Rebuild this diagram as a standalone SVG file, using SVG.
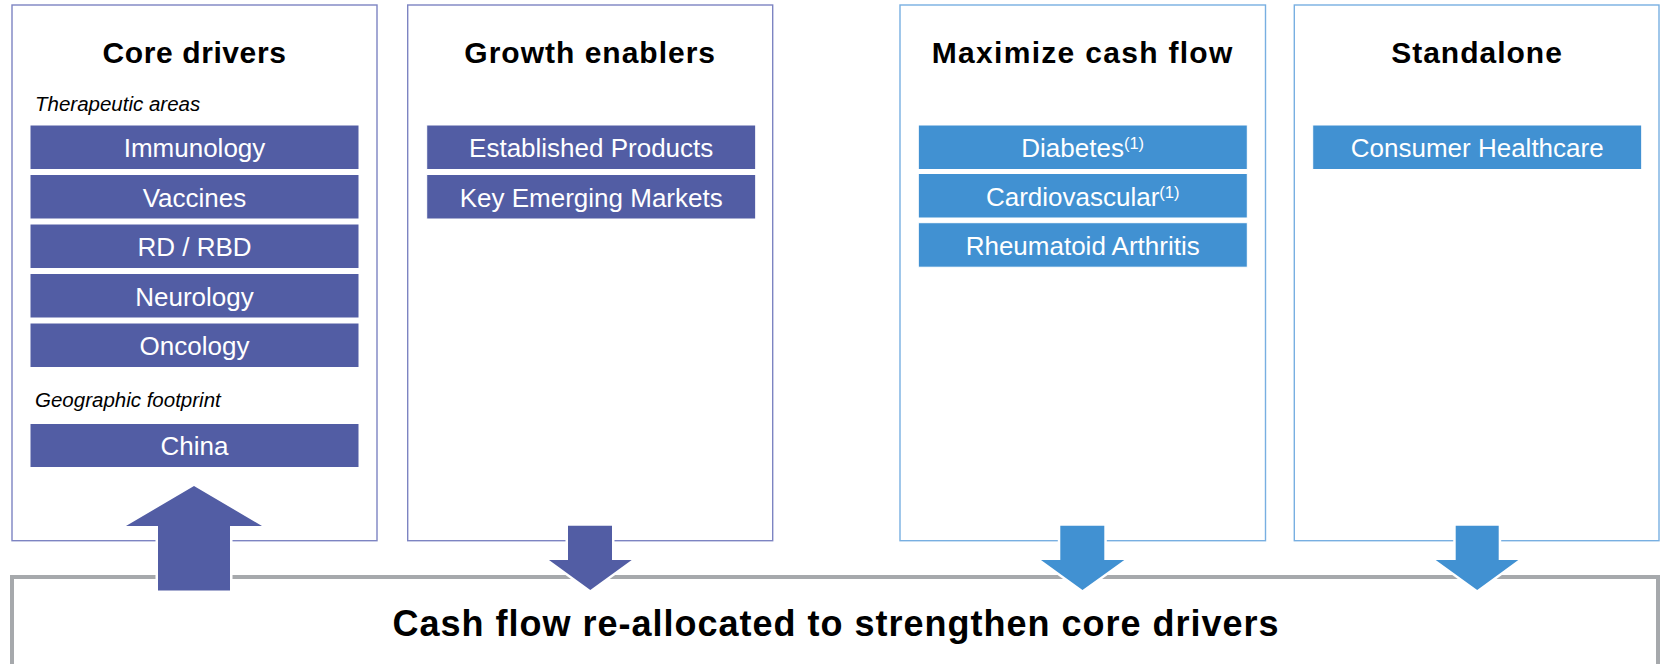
<svg xmlns="http://www.w3.org/2000/svg" width="1661" height="664" viewBox="0 0 1661 664">
  <style>
    .panel { fill: #ffffff; stroke-width: 1.4; }
    .panel-p { stroke: #7d84c2; }
    .panel-b { stroke: #78afe1; }
    .title { font-family: "Liberation Sans", Arial, sans-serif; font-weight: bold; font-size: 30px; fill: #000000; text-anchor: middle; }
    .sub { font-family: "Liberation Sans", Arial, sans-serif; font-style: italic; font-size: 20.5px; fill: #000000; }
    .bar-p { fill: #525da4; stroke: #ffffff; stroke-width: 1; }
    .bar-b { fill: #4191d2; stroke: #ffffff; stroke-width: 1; }
    .lbl { font-family: "Liberation Sans", Arial, sans-serif; font-size: 26px; fill: #ffffff; text-anchor: middle; }
    .sup { font-size: 16.5px; }
    .arrow-p { fill: #525da4; stroke: #ffffff; stroke-width: 5; paint-order: stroke; }
    .arrow-b { fill: #4191d2; stroke: #ffffff; stroke-width: 5; paint-order: stroke; }
    .footer { fill: #ffffff; stroke: #a6a9ac; stroke-width: 4; }
    .footer-txt { font-family: "Liberation Sans", Arial, sans-serif; font-weight: bold; font-size: 36px; fill: #000000; text-anchor: middle; letter-spacing: 1px; }
  </style>

  <!-- column: core drivers -->
  <g id="core-drivers">
    <rect class="panel panel-p" x="12" y="5" width="365" height="535.7"/>
    <text class="title" x="194.5" y="63" letter-spacing="0.6">Core drivers</text>
    <text class="sub" x="35" y="111">Therapeutic areas</text>
    <rect class="bar-p" x="30" y="125" width="329" height="44.5"/>
    <text class="lbl" x="194.5" y="157">Immunology</text>
    <rect class="bar-p" x="30" y="174.5" width="329" height="44.5"/>
    <text class="lbl" x="194.5" y="206.5">Vaccines</text>
    <rect class="bar-p" x="30" y="224" width="329" height="44.5"/>
    <text class="lbl" x="194.5" y="256">RD / RBD</text>
    <rect class="bar-p" x="30" y="273.5" width="329" height="44.5"/>
    <text class="lbl" x="194.5" y="305.5">Neurology</text>
    <rect class="bar-p" x="30" y="323" width="329" height="44.5"/>
    <text class="lbl" x="194.5" y="355">Oncology</text>
    <text class="sub" x="35" y="406.5">Geographic footprint</text>
    <rect class="bar-p" x="30" y="423.5" width="329" height="44"/>
    <text class="lbl" x="194.5" y="455">China</text>
  </g>

  <!-- column: growth enablers -->
  <g id="growth-enablers">
    <rect class="panel panel-p" x="407.7" y="5" width="365" height="535.7"/>
    <text class="title" x="590.2" y="63" letter-spacing="1">Growth enablers</text>
    <rect class="bar-p" x="426.7" y="125" width="329" height="44.5"/>
    <text class="lbl" x="591.2" y="157">Established Products</text>
    <rect class="bar-p" x="426.7" y="174.5" width="329" height="44.5"/>
    <text class="lbl" x="591.2" y="206.5">Key Emerging Markets</text>
  </g>

  <!-- column: maximize cash flow -->
  <g id="maximize-cash-flow">
    <rect class="panel panel-b" x="900" y="5" width="365.5" height="535.7"/>
    <text class="title" x="1082.7" y="63" letter-spacing="1.3">Maximize cash flow</text>
    <rect class="bar-b" x="918.3" y="125" width="329" height="44.5"/>
    <text class="lbl" x="1082.7" y="157">Diabetes<tspan class="sup" dy="-8">(1)</tspan></text>
    <rect class="bar-b" x="918.3" y="173.5" width="329" height="44.5"/>
    <text class="lbl" x="1082.7" y="205.5">Cardiovascular<tspan class="sup" dy="-8">(1)</tspan></text>
    <rect class="bar-b" x="918.3" y="222.7" width="329" height="44.5"/>
    <text class="lbl" x="1082.7" y="254.5">Rheumatoid Arthritis</text>
  </g>

  <!-- column: standalone -->
  <g id="standalone">
    <rect class="panel panel-b" x="1294.3" y="5" width="364.7" height="535.7"/>
    <text class="title" x="1477" y="63" letter-spacing="1">Standalone</text>
    <rect class="bar-b" x="1312.7" y="125" width="329" height="44.5"/>
    <text class="lbl" x="1477.2" y="157">Consumer Healthcare</text>
  </g>

  <!-- footer band -->
  <g id="reallocation">
    <rect class="footer" x="12" y="577" width="1646" height="120"/>
    <text class="footer-txt" x="836" y="636">Cash flow re-allocated to strengthen core drivers</text>
  </g>

  <!-- flow arrows -->
  <g id="connectors">
    <polygon class="arrow-p" points="194,486 262,526 230,526 230,590.5 158,590.5 158,526 126,526"/>
    <polygon class="arrow-p" points="568,525.7 612,525.7 612,560 631.7,560 590.3,590 549,560 568,560"/>
    <polygon class="arrow-b" points="1060.3,525.7 1104.3,525.7 1104.3,560 1124.3,560 1082.5,590 1041,560 1060.3,560"/>
    <polygon class="arrow-b" points="1455.7,525.7 1498.7,525.7 1498.7,560 1518.3,560 1477.2,590 1435.7,560 1455.7,560"/>
  </g>
</svg>
